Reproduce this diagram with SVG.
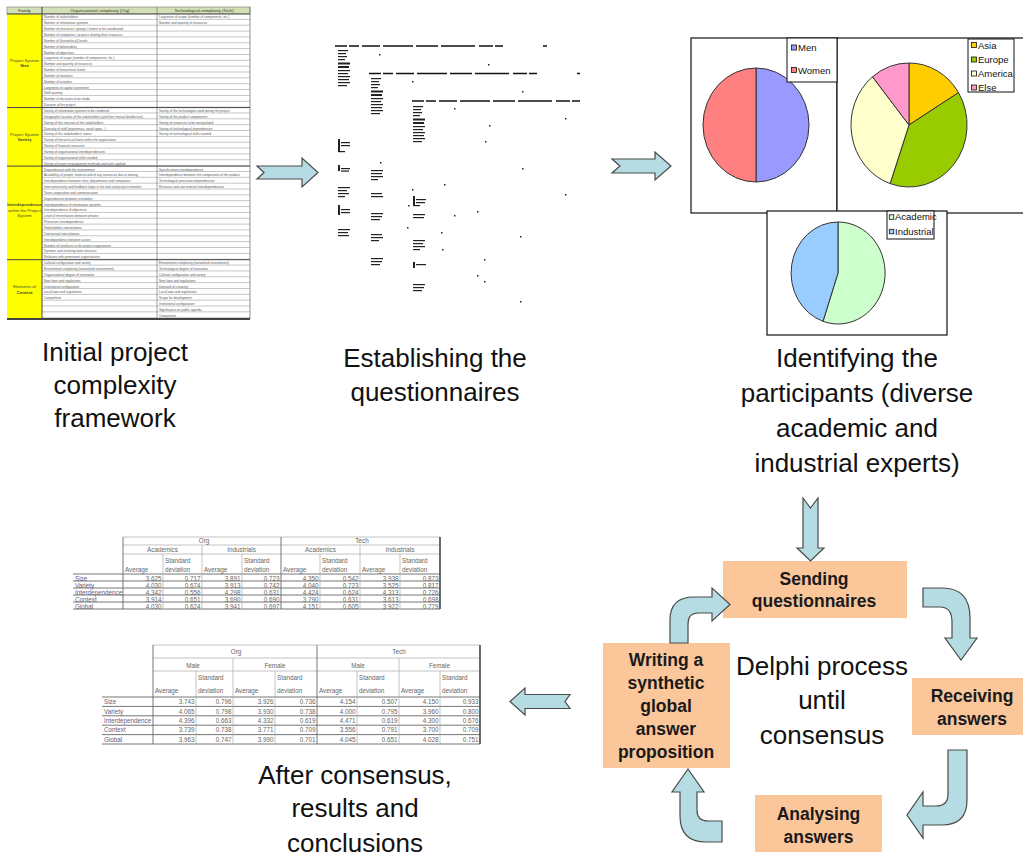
<svg xmlns="http://www.w3.org/2000/svg" width="1023" height="859" viewBox="0 0 1023 859">
<style>
.cap{font-family:"Liberation Sans",Arial,sans-serif;font-size:26px;fill:#111;text-anchor:middle}
.box{fill:#fbc79a}
.bl{font-family:"Liberation Sans",Arial,sans-serif;font-size:17.5px;font-weight:bold;fill:#1a1a1a;text-anchor:middle}
.arr{fill:#b5dce2;stroke:#4a4a4a;stroke-width:1.2;stroke-linejoin:miter}
.ft{font-family:"Liberation Sans",Arial,sans-serif;font-size:3.2px;fill:#555}
.fh{font-family:"Liberation Sans",Arial,sans-serif;font-size:4.2px;fill:#333;text-anchor:middle}
.fam{font-family:"Liberation Sans",Arial,sans-serif;font-size:4.3px;fill:#444;text-anchor:middle}
.sec{stroke:#444;stroke-width:1}
.pie{stroke:#333;stroke-width:1}
.frm{fill:#fff;stroke:#111;stroke-width:1.2}
.lg{font-family:"Liberation Sans",Arial,sans-serif;font-size:9.5px;fill:#111}
.sq{stroke:#111;stroke-width:0.8}
.tt{font-family:"Liberation Sans",Arial,sans-serif;font-size:6.3px;fill:#666}
.tn{font-family:"Liberation Sans",Arial,sans-serif;font-size:6.3px;fill:#666;text-anchor:end}
.tc{font-family:"Liberation Sans",Arial,sans-serif;font-size:6.3px;fill:#666;text-anchor:middle}
.tlab{font-family:"Liberation Sans",Arial,sans-serif;font-size:6.3px;fill:#6a5a7a}
.gl{stroke:#aaa;stroke-width:0.7}
.gd{stroke:#666;stroke-width:0.9}
.gk{stroke:#444;stroke-width:1.6}
.qh{stroke:#111;stroke-width:1.6}
.qm{fill:#222}
</style>
<defs>
<pattern id="rows" x="0" y="14" width="10" height="5.85" patternUnits="userSpaceOnUse">
<rect width="10" height="5.85" fill="#fff"/>
<line x1="0" y1="5.5" x2="10" y2="5.5" stroke="#8c8c8c" stroke-width="0.6"/>
</pattern>
</defs>
<rect width="1023" height="859" fill="#fff"/>

<!-- Node: framework table -->
<g id="framework">
<rect x="7" y="7" width="243" height="7" fill="#d3e0b6" stroke="#777" stroke-width="0.6"/>
<rect x="7" y="14" width="35" height="305" fill="#ffff00"/>
<rect x="42" y="14" width="208" height="305" fill="url(#rows)"/>
<line x1="42" y1="7" x2="42" y2="319" class="sec"/>
<line x1="157" y1="7" x2="157" y2="319" stroke="#777" stroke-width="0.7"/>
<line x1="250" y1="7" x2="250" y2="319" stroke="#777" stroke-width="0.8"/>
<line x1="7" y1="14" x2="250" y2="14" class="sec"/>
<line x1="7" y1="107.6" x2="250" y2="107.6" class="sec"/>
<line x1="7" y1="166.1" x2="250" y2="166.1" class="sec"/>
<line x1="7" y1="259.7" x2="250" y2="259.7" class="sec"/>
<line x1="7" y1="319" x2="250" y2="319" stroke="#444" stroke-width="1.8"/>
<text class="fh" x="24.5" y="12.3">Family</text>
<text class="fh" x="100" y="12.3">Organisational complexity (Org)</text>
<text class="fh" x="204" y="12.3">Technological complexity (Tech)</text>
<text class="fam" x="24.5" y="61.5">Project System</text>
<text class="fam" x="24.5" y="66.5" font-weight="bold">Size</text>
<text class="fam" x="24.5" y="135.5">Project System</text>
<text class="fam" x="24.5" y="141" font-weight="bold">Variety</text>
<text class="fam" x="24.5" y="206" font-weight="bold">Interdependence</text>
<text class="fam" x="24.5" y="211.5">within the Project</text>
<text class="fam" x="24.5" y="217">System</text>
<text class="fam" x="24.5" y="288">Elements of</text>
<text class="fam" x="24.5" y="293.5" font-weight="bold">Context</text>
<text class="ft">
<tspan x="44" y="18.4">Number of stakeholders</tspan>
<tspan x="44" y="24.25">Number of information systems</tspan>
<tspan x="44" y="30.1">Number of structures / groups / teams to be coordinated</tspan>
<tspan x="44" y="35.95">Number of companies / projects sharing their resources</tspan>
<tspan x="44" y="41.8">Number of (hierarchical) levels</tspan>
<tspan x="44" y="47.65">Number of deliverables</tspan>
<tspan x="44" y="53.5">Number of objectives</tspan>
<tspan x="44" y="59.35">Largeness of scope (number of components, etc.)</tspan>
<tspan x="44" y="65.2">Number and quantity of resources</tspan>
<tspan x="44" y="71.05">Number of hierarchical levels</tspan>
<tspan x="44" y="76.9">Number of investors</tspan>
<tspan x="44" y="82.75">Number of activities</tspan>
<tspan x="44" y="88.6">Largeness of capital investment</tspan>
<tspan x="44" y="94.45">Staff quantity</tspan>
<tspan x="44" y="100.3">Number of decisions to be made</tspan>
<tspan x="44" y="106.15">Duration of the project</tspan>
<tspan x="44" y="112">Variety of information systems to be combined</tspan>
<tspan x="44" y="117.85">Geographic location of the stakeholders (and their mutual disaffection)</tspan>
<tspan x="44" y="123.7">Variety of the interests of the stakeholders</tspan>
<tspan x="44" y="129.55">Diversity of staff (experience, social span...)</tspan>
<tspan x="44" y="135.4">Variety of the stakeholders' status</tspan>
<tspan x="44" y="141.25">Variety of hierarchical levels within the organisation</tspan>
<tspan x="44" y="147.1">Variety of financial resources</tspan>
<tspan x="44" y="152.95">Variety of organisational interdependencies</tspan>
<tspan x="44" y="158.8">Variety of organisational skills needed</tspan>
<tspan x="44" y="164.65">Variety of project management methods and tools applied</tspan>
<tspan x="44" y="170.5">Dependencies with the environment</tspan>
<tspan x="44" y="176.35">Availability of people, material and of any resources due to sharing</tspan>
<tspan x="44" y="182.2">Interdependence between sites, departments and companies</tspan>
<tspan x="44" y="188.05">Interconnectivity and feedback loops in the task and project networks</tspan>
<tspan x="44" y="193.9">Team cooperation and communication</tspan>
<tspan x="44" y="199.75">Dependencies between schedules</tspan>
<tspan x="44" y="205.6">Interdependence of information systems</tspan>
<tspan x="44" y="211.45">Interdependence of objectives</tspan>
<tspan x="44" y="217.3">Level of interrelations between phases</tspan>
<tspan x="44" y="223.15">Processes interdependence</tspan>
<tspan x="44" y="229">Stakeholders interrelations</tspan>
<tspan x="44" y="234.85">Contractual interrelations</tspan>
<tspan x="44" y="240.7">Interdependence between actors</tspan>
<tspan x="44" y="246.55">Number of interfaces in the project organization</tspan>
<tspan x="44" y="252.4">Dynamic and evolving team structure</tspan>
<tspan x="44" y="258.25">Relations with permanent organisations</tspan>
<tspan x="44" y="264.1">Cultural configuration and variety</tspan>
<tspan x="44" y="269.95">Environment complexity (networked environment)</tspan>
<tspan x="44" y="275.8">Organisational degree of innovation</tspan>
<tspan x="44" y="281.65">New laws and regulations</tspan>
<tspan x="44" y="287.5">Institutional configuration</tspan>
<tspan x="44" y="293.35">Local laws and regulations</tspan>
<tspan x="44" y="299.2">Competition</tspan>
</text>
<text class="ft">
<tspan x="159" y="18.4">Largeness of scope (number of components, etc.)</tspan>
<tspan x="159" y="24.25">Number and quantity of resources</tspan>
<tspan x="159" y="112">Variety of the technologies used during the project</tspan>
<tspan x="159" y="117.85">Variety of the product components</tspan>
<tspan x="159" y="123.7">Variety of resources to be manipulated</tspan>
<tspan x="159" y="129.55">Variety of technological dependencies</tspan>
<tspan x="159" y="135.4">Variety of technological skills needed</tspan>
<tspan x="159" y="170.5">Specifications interdependence</tspan>
<tspan x="159" y="176.35">Interdependence between the components of the product</tspan>
<tspan x="159" y="182.2">Technological processes dependencies</tspan>
<tspan x="159" y="188.05">Resource and raw material interdependencies</tspan>
<tspan x="159" y="264.1">Environment complexity (networked environment)</tspan>
<tspan x="159" y="269.95">Technological degree of innovation</tspan>
<tspan x="159" y="275.8">Cultural configuration and variety</tspan>
<tspan x="159" y="281.65">New laws and regulations</tspan>
<tspan x="159" y="287.5">Demand of creativity</tspan>
<tspan x="159" y="293.35">Local laws and regulations</tspan>
<tspan x="159" y="299.2">Scope for development</tspan>
<tspan x="159" y="305.05">Institutional configuration</tspan>
<tspan x="159" y="310.9">Significance on public agenda</tspan>
<tspan x="159" y="316.75">Competition</tspan>
</text>
<text class="cap"><tspan x="115" y="361">Initial project</tspan><tspan x="115" y="394">complexity</tspan><tspan x="115" y="427">framework</tspan></text>
</g>

<!-- Node: questionnaires -->
<g id="questionnaires">
<line class="qh" x1="335" y1="46" x2="547" y2="46" stroke-dasharray="12 2 10 3 18 3 30 3 22 3 34 4 14 2 8 40"/>
<line class="qh" x1="369" y1="73.5" x2="580" y2="73.5" stroke-dasharray="12 2 10 3 18 3 30 3 22 3 34 4 14 2 8 40"/>
<line class="qh" x1="412" y1="101" x2="618" y2="101" stroke-dasharray="12 2 10 3 18 3 30 3 22 3 34 4 14 2 8 40"/>
<g class="qm">
<rect x="338" y="50" width="10" height="1.2"/><rect x="338" y="53" width="8" height="1.2"/><rect x="338" y="56" width="9" height="1.2"/><rect x="338" y="59" width="7" height="1.2"/><rect x="338" y="62.5" width="12" height="2"/><rect x="338" y="66" width="11" height="2"/><rect x="338" y="70" width="12" height="1.2"/><rect x="338" y="73" width="10" height="1.2"/><rect x="338" y="76" width="12" height="1.2"/><rect x="338" y="79" width="11" height="1.2"/><rect x="338" y="82" width="12" height="1.2"/><rect x="338" y="85" width="9" height="1.2"/>
<rect x="371" y="78" width="10" height="1.2"/><rect x="371" y="81" width="8" height="1.2"/><rect x="371" y="84" width="9" height="1.2"/><rect x="371" y="87" width="7" height="1.2"/><rect x="371" y="90.5" width="12" height="2"/><rect x="371" y="94" width="11" height="2"/><rect x="371" y="98" width="12" height="1.2"/><rect x="371" y="101" width="10" height="1.2"/><rect x="371" y="104" width="12" height="1.2"/><rect x="371" y="107" width="11" height="1.2"/><rect x="371" y="110" width="12" height="1.2"/><rect x="371" y="113" width="9" height="1.2"/>
<rect x="413" y="106" width="10" height="1.2"/><rect x="413" y="109" width="8" height="1.2"/><rect x="413" y="112" width="9" height="1.2"/><rect x="413" y="115" width="7" height="1.2"/><rect x="413" y="118.5" width="12" height="2"/><rect x="413" y="122" width="11" height="2"/><rect x="413" y="126" width="12" height="1.2"/><rect x="413" y="129" width="10" height="1.2"/><rect x="413" y="132" width="12" height="1.2"/><rect x="413" y="135" width="11" height="1.2"/><rect x="413" y="138" width="12" height="1.2"/><rect x="413" y="141" width="9" height="1.2"/>
<rect x="338" y="139" width="2" height="12"/><rect x="341" y="142" width="9" height="1.2"/><rect x="341" y="145" width="9" height="1.2"/><rect x="338" y="151" width="7" height="1.2"/>
<rect x="338" y="165" width="2" height="6"/><rect x="341" y="168" width="9" height="1.2"/><rect x="341" y="170.5" width="8" height="1.2"/>
<rect x="338" y="187" width="12" height="1.2"/><rect x="338" y="190" width="9" height="1.2"/><rect x="338" y="193" width="11" height="1.2"/><rect x="338" y="196" width="7" height="1.2"/>
<rect x="338" y="205" width="2" height="10"/><rect x="341" y="209" width="9" height="1.2"/><rect x="341" y="212" width="9" height="1.2"/>
<rect x="338" y="229" width="12" height="1.2"/><rect x="338" y="232" width="10" height="1.2"/><rect x="338" y="235" width="11" height="1.2"/>
<rect x="371" y="170" width="12" height="1.2"/><rect x="371" y="173" width="11" height="1.2"/><rect x="371" y="176" width="12" height="1.2"/><rect x="371" y="179" width="7" height="1.2"/>
<rect x="371" y="193" width="11" height="1.2"/><rect x="371" y="196" width="12" height="1.2"/>
<rect x="371" y="213" width="12" height="1.2"/><rect x="371" y="216" width="11" height="1.2"/><rect x="371" y="219" width="9" height="1.2"/>
<rect x="371" y="234" width="11" height="1.2"/><rect x="371" y="237" width="12" height="1.2"/><rect x="371" y="240" width="8" height="1.2"/>
<rect x="371" y="258" width="12" height="1.2"/><rect x="371" y="261" width="11" height="1.2"/><rect x="371" y="264" width="9" height="1.2"/>
<rect x="413" y="196" width="2" height="9"/><rect x="416" y="199" width="10" height="1.2"/><rect x="416" y="202" width="9" height="1.2"/><rect x="413" y="205" width="7" height="1.2"/>
<rect x="413" y="214" width="12" height="1.2"/><rect x="413" y="217" width="11" height="1.2"/>
<rect x="413" y="240" width="12" height="1.2"/><rect x="413" y="243" width="10" height="1.2"/><rect x="413" y="246" width="12" height="1.2"/><rect x="413" y="249" width="7" height="1.2"/>
<rect x="413" y="262" width="2" height="6"/><rect x="416" y="264" width="10" height="1.2"/>
<rect x="413" y="284" width="12" height="1.2"/><rect x="413" y="287" width="11" height="1.2"/><rect x="413" y="290" width="9" height="1.2"/>
<rect x="379" y="54" width="1.5" height="1.5"/><rect x="488" y="64" width="1.5" height="1.5"/><rect x="412" y="81" width="1.5" height="1.5"/><rect x="522" y="91" width="1.5" height="1.5"/><rect x="454" y="108" width="1.5" height="1.5"/><rect x="489" y="125" width="1.5" height="1.5"/><rect x="565" y="118" width="1.5" height="1.5"/><rect x="485" y="141" width="1.5" height="1.5"/><rect x="380" y="162" width="1.5" height="1.5"/><rect x="522" y="168" width="1.5" height="1.5"/><rect x="444" y="184" width="1.5" height="1.5"/><rect x="412" y="189" width="1.5" height="1.5"/><rect x="565" y="194" width="1.5" height="1.5"/><rect x="408" y="205" width="1.5" height="1.5"/><rect x="477" y="211" width="1.5" height="1.5"/><rect x="454" y="215" width="1.5" height="1.5"/><rect x="407" y="227" width="1.5" height="1.5"/><rect x="441" y="232" width="1.5" height="1.5"/><rect x="520" y="236" width="1.5" height="1.5"/><rect x="442" y="249" width="1.5" height="1.5"/><rect x="484" y="259" width="1.5" height="1.5"/><rect x="477" y="275" width="1.5" height="1.5"/><rect x="484" y="281" width="1.5" height="1.5"/><rect x="520" y="301" width="1.5" height="1.5"/>
</g>
<text class="cap"><tspan x="435" y="367">Establishing the</tspan><tspan x="435" y="401">questionnaires</tspan></text>
</g>

<!-- Node: participants (pie charts) -->
<g id="participants">
<rect class="frm" x="691" y="38" width="146" height="175"/>
<rect class="frm" x="837" y="38" width="190" height="175"/>
<path class="pie" fill="#9999ff" d="M756,68 A53,57 0 0,1 756,182 Z"/>
<path class="pie" fill="#ff8080" d="M756,182 A53,57 0 0,1 756,68 Z"/>
<rect x="787" y="38" width="50" height="44" fill="#fff" stroke="#111" stroke-width="1"/>
<rect class="sq" x="791.5" y="45" width="5" height="5" fill="#9999ff"/>
<text class="lg" x="798" y="51" font-size="10">Men</text>
<rect class="sq" x="791.5" y="67.5" width="5" height="5" fill="#ff8080"/>
<text class="lg" x="798" y="73.5" font-size="10">Women</text>
<path class="pie" fill="#ffcc00" d="M909,125 L909,63 A58,62 0 0,1 958.5,92.6 Z"/>
<path class="pie" fill="#99cc00" d="M909,125 L958.5,92.6 A58,62 0 0,1 890.1,183.6 Z"/>
<path class="pie" fill="#ffffcc" d="M909,125 L890.1,183.6 A58,62 0 0,1 872.5,76.8 Z"/>
<path class="pie" fill="#ff99cc" d="M909,125 L872.5,76.8 A58,62 0 0,1 909,63 Z"/>
<rect x="968" y="39" width="46" height="53" fill="#fff" stroke="#111" stroke-width="1"/>
<rect class="sq" x="971.5" y="42.5" width="5" height="5" fill="#ffcc00"/>
<text class="lg" x="978" y="48.5">Asia</text>
<rect class="sq" x="971.5" y="57" width="5" height="5" fill="#99cc00"/>
<text class="lg" x="978" y="63">Europe</text>
<rect class="sq" x="971.5" y="71" width="5" height="5" fill="#ffffcc"/>
<text class="lg" x="978" y="77">America</text>
<rect class="sq" x="971.5" y="85" width="5" height="5" fill="#ff99cc"/>
<text class="lg" x="978" y="91">Else</text>
<rect class="frm" x="767" y="211" width="180" height="124"/>
<path class="pie" fill="#ccffcc" d="M838,273 L838,222 A47,51 0 1,1 823,321.3 Z"/>
<path class="pie" fill="#99ccff" d="M838,273 L823,321.3 A47,51 0 0,1 838,222 Z"/>
<rect x="887" y="211" width="47" height="28" fill="#fff" stroke="#111" stroke-width="1"/>
<rect class="sq" x="889.3" y="214.8" width="4.5" height="4.5" fill="#ccffcc"/>
<text class="lg" x="895" y="220.3" font-size="8.8">Academic</text>
<rect class="sq" x="889.3" y="229.3" width="4.5" height="4.5" fill="#99ccff"/>
<text class="lg" x="895" y="234.8" font-size="8.8">Industrial</text>
<text class="cap"><tspan x="857" y="367">Identifying the</tspan><tspan x="857" y="402">participants (diverse</tspan><tspan x="857" y="437">academic and</tspan><tspan x="857" y="472">industrial experts)</tspan></text>
</g>

<!-- Node: Delphi process -->
<g id="delphi">
<text class="cap" font-size="26.5"><tspan x="822" y="675">Delphi process</tspan><tspan x="822" y="709">until</tspan><tspan x="822" y="744">consensus</tspan></text>
</g>
<g id="sending">
<rect class="box" x="723" y="561" width="184" height="57"/>
<text class="bl"><tspan x="814" y="585">Sending</tspan><tspan x="814" y="607">questionnaires</tspan></text>
</g>
<g id="receiving">
<rect class="box" x="912" y="678" width="111" height="57"/>
<text class="bl"><tspan x="972" y="702">Receiving</tspan><tspan x="972" y="725">answers</tspan></text>
</g>
<g id="analysing">
<rect class="box" x="755" y="795" width="127" height="57"/>
<text class="bl"><tspan x="818.5" y="820">Analysing</tspan><tspan x="818.5" y="843">answers</tspan></text>
</g>
<g id="writing">
<rect class="box" x="603" y="643" width="127" height="125"/>
<text class="bl"><tspan x="666" y="666">Writing a</tspan><tspan x="666" y="689">synthetic</tspan><tspan x="666" y="712">global</tspan><tspan x="666" y="735">answer</tspan><tspan x="666" y="758">proposition</tspan></text>
</g>

<!-- Node: results tables -->
<g id="results">
<g id="table-academic">
<line class="gl" x1="123" y1="537" x2="440" y2="537"/>
<line class="gl" x1="123" y1="545" x2="440" y2="545"/>
<line class="gl" x1="123" y1="554" x2="440" y2="554"/>
<line class="gd" x1="73" y1="574" x2="440" y2="574"/>
<line class="gd" x1="73" y1="581" x2="440" y2="581"/>
<line class="gd" x1="73" y1="588" x2="440" y2="588"/>
<line class="gd" x1="73" y1="595" x2="440" y2="595"/>
<line class="gd" x1="73" y1="602" x2="440" y2="602"/>
<line class="gd" x1="73" y1="609" x2="440" y2="609"/>
<line class="gd" x1="123" y1="537" x2="123" y2="609"/>
<line class="gd" x1="281" y1="537" x2="281" y2="609"/>
<line class="gl" x1="202" y1="545" x2="202" y2="609"/>
<line class="gl" x1="360" y1="545" x2="360" y2="609"/>
<line class="gl" x1="163" y1="554" x2="163" y2="609"/>
<line class="gl" x1="242" y1="554" x2="242" y2="609"/>
<line class="gl" x1="320" y1="554" x2="320" y2="609"/>
<line class="gl" x1="400" y1="554" x2="400" y2="609"/>
<line class="gk" x1="440" y1="537" x2="440" y2="609"/>
<text class="tc" x="204" y="543">Org</text>
<text class="tc" x="362" y="543">Tech</text>
<text class="tc"><tspan x="162.5" y="552">Academics</tspan><tspan x="241.5" y="552">Industrials</tspan><tspan x="320.5" y="552">Academics</tspan><tspan x="400" y="552">Industrials</tspan></text>
<text class="tt"><tspan x="165" y="563">Standard</tspan><tspan x="244" y="563">Standard</tspan><tspan x="322" y="563">Standard</tspan><tspan x="402" y="563">Standard</tspan>
<tspan x="165" y="572">deviation</tspan><tspan x="244" y="572">deviation</tspan><tspan x="322" y="572">deviation</tspan><tspan x="402" y="572">deviation</tspan>
<tspan x="125" y="572">Average</tspan><tspan x="204" y="572">Average</tspan><tspan x="283" y="572">Average</tspan><tspan x="362" y="572">Average</tspan></text>
<text class="tlab"><tspan x="75" y="580.5">Size</tspan><tspan x="75" y="587.5">Variety</tspan><tspan x="75" y="594.5">Interdependence</tspan><tspan x="75" y="601.5">Context</tspan><tspan x="75" y="608.5">Global</tspan></text>
<text class="tn"><tspan x="161.5" y="580.5">3.625</tspan><tspan x="200.5" y="580.5">0.717</tspan><tspan x="240.5" y="580.5">3.891</tspan><tspan x="279.5" y="580.5">0.723</tspan><tspan x="318.5" y="580.5">4.350</tspan><tspan x="358.5" y="580.5">0.542</tspan><tspan x="398.5" y="580.5">3.938</tspan><tspan x="438.5" y="580.5">0.873</tspan></text>
<text class="tn"><tspan x="161.5" y="587.5">4.030</tspan><tspan x="200.5" y="587.5">0.674</tspan><tspan x="240.5" y="587.5">3.913</tspan><tspan x="279.5" y="587.5">0.742</tspan><tspan x="318.5" y="587.5">4.040</tspan><tspan x="358.5" y="587.5">0.723</tspan><tspan x="398.5" y="587.5">3.525</tspan><tspan x="438.5" y="587.5">0.817</tspan></text>
<text class="tn"><tspan x="161.5" y="594.5">4.342</tspan><tspan x="200.5" y="594.5">0.556</tspan><tspan x="240.5" y="594.5">4.298</tspan><tspan x="279.5" y="594.5">0.631</tspan><tspan x="318.5" y="594.5">4.424</tspan><tspan x="358.5" y="594.5">0.624</tspan><tspan x="398.5" y="594.5">4.313</tspan><tspan x="438.5" y="594.5">0.726</tspan></text>
<text class="tn"><tspan x="161.5" y="601.5">3.914</tspan><tspan x="200.5" y="601.5">0.651</tspan><tspan x="240.5" y="601.5">3.690</tspan><tspan x="279.5" y="601.5">0.690</tspan><tspan x="318.5" y="601.5">3.790</tspan><tspan x="358.5" y="601.5">0.631</tspan><tspan x="398.5" y="601.5">3.613</tspan><tspan x="438.5" y="601.5">0.698</tspan></text>
<text class="tn"><tspan x="161.5" y="608.5">4.030</tspan><tspan x="200.5" y="608.5">0.624</tspan><tspan x="240.5" y="608.5">3.941</tspan><tspan x="279.5" y="608.5">0.697</tspan><tspan x="318.5" y="608.5">4.151</tspan><tspan x="358.5" y="608.5">0.605</tspan><tspan x="398.5" y="608.5">3.922</tspan><tspan x="438.5" y="608.5">0.779</tspan></text>
</g>
<g id="table-gender">
<line class="gl" x1="153" y1="645" x2="480" y2="645"/>
<line class="gl" x1="153" y1="658" x2="480" y2="658"/>
<line class="gl" x1="153" y1="671" x2="480" y2="671"/>
<line class="gd" x1="102" y1="697" x2="480" y2="697"/>
<line class="gd" x1="102" y1="706.4" x2="480" y2="706.4"/>
<line class="gd" x1="102" y1="715.8" x2="480" y2="715.8"/>
<line class="gd" x1="102" y1="725.2" x2="480" y2="725.2"/>
<line class="gd" x1="102" y1="734.6" x2="480" y2="734.6"/>
<line class="gd" x1="102" y1="744" x2="480" y2="744"/>
<line class="gd" x1="153" y1="645" x2="153" y2="744"/>
<line class="gd" x1="317" y1="645" x2="317" y2="744"/>
<line class="gl" x1="233" y1="658" x2="233" y2="744"/>
<line class="gl" x1="399" y1="658" x2="399" y2="744"/>
<line class="gl" x1="196" y1="671" x2="196" y2="744"/>
<line class="gl" x1="275" y1="671" x2="275" y2="744"/>
<line class="gl" x1="357" y1="671" x2="357" y2="744"/>
<line class="gl" x1="440" y1="671" x2="440" y2="744"/>
<line class="gk" x1="480" y1="645" x2="480" y2="744"/>
<text class="tc" font-size="7"><tspan x="236" y="654">Org</tspan><tspan x="399" y="654">Tech</tspan></text>
<text class="tc" font-size="7"><tspan x="193" y="667.5">Male</tspan><tspan x="275" y="667.5">Female</tspan><tspan x="358" y="667.5">Male</tspan><tspan x="439.5" y="667.5">Female</tspan></text>
<text class="tt" font-size="7"><tspan x="198" y="679.5">Standard</tspan><tspan x="277" y="679.5">Standard</tspan><tspan x="359" y="679.5">Standard</tspan><tspan x="442" y="679.5">Standard</tspan>
<tspan x="198" y="692.5">deviation</tspan><tspan x="277" y="692.5">deviation</tspan><tspan x="359" y="692.5">deviation</tspan><tspan x="442" y="692.5">deviation</tspan>
<tspan x="155" y="692.5">Average</tspan><tspan x="235" y="692.5">Average</tspan><tspan x="319" y="692.5">Average</tspan><tspan x="401" y="692.5">Average</tspan></text>
<text class="tlab" font-size="7"><tspan x="104" y="704.2">Size</tspan><tspan x="104" y="713.6">Variety</tspan><tspan x="104" y="723">Interdependence</tspan><tspan x="104" y="732.4">Context</tspan><tspan x="104" y="741.8">Global</tspan></text>
<text class="tn" font-size="7"><tspan x="194.5" y="704.2">3.743</tspan><tspan x="231.5" y="704.2">0.796</tspan><tspan x="273.5" y="704.2">3.926</tspan><tspan x="315.5" y="704.2">0.736</tspan><tspan x="355.5" y="704.2">4.154</tspan><tspan x="397.5" y="704.2">0.507</tspan><tspan x="438.5" y="704.2">4.150</tspan><tspan x="478.5" y="704.2">0.933</tspan></text>
<text class="tn" font-size="7"><tspan x="194.5" y="713.6">4.065</tspan><tspan x="231.5" y="713.6">0.798</tspan><tspan x="273.5" y="713.6">3.930</tspan><tspan x="315.5" y="713.6">0.738</tspan><tspan x="355.5" y="713.6">4.000</tspan><tspan x="397.5" y="713.6">0.795</tspan><tspan x="438.5" y="713.6">3.960</tspan><tspan x="478.5" y="713.6">0.800</tspan></text>
<text class="tn" font-size="7"><tspan x="194.5" y="723">4.396</tspan><tspan x="231.5" y="723">0.663</tspan><tspan x="273.5" y="723">4.332</tspan><tspan x="315.5" y="723">0.619</tspan><tspan x="355.5" y="723">4.471</tspan><tspan x="397.5" y="723">0.619</tspan><tspan x="438.5" y="723">4.300</tspan><tspan x="478.5" y="723">0.676</tspan></text>
<text class="tn" font-size="7"><tspan x="194.5" y="732.4">3.739</tspan><tspan x="231.5" y="732.4">0.738</tspan><tspan x="273.5" y="732.4">3.771</tspan><tspan x="315.5" y="732.4">0.709</tspan><tspan x="355.5" y="732.4">3.556</tspan><tspan x="397.5" y="732.4">0.791</tspan><tspan x="438.5" y="732.4">3.700</tspan><tspan x="478.5" y="732.4">0.709</tspan></text>
<text class="tn" font-size="7"><tspan x="194.5" y="741.8">3.963</tspan><tspan x="231.5" y="741.8">0.747</tspan><tspan x="273.5" y="741.8">3.990</tspan><tspan x="315.5" y="741.8">0.701</tspan><tspan x="355.5" y="741.8">4.045</tspan><tspan x="397.5" y="741.8">0.651</tspan><tspan x="438.5" y="741.8">4.028</tspan><tspan x="478.5" y="741.8">0.751</tspan></text>
</g>
<text class="cap"><tspan x="355" y="784">After consensus,</tspan><tspan x="355" y="817">results and</tspan><tspan x="355" y="852">conclusions</tspan></text>
</g>

<!-- Connectors -->
<g id="connectors">
<path class="arr" d="M257,166 L302,166 L302,158 L318,172.5 L302,187 L302,179 L257,179 L264,172.5 Z"/>
<path class="arr" d="M612,159 L655,159 L655,152 L671,166 L655,180 L655,173 L612,173 L620,166 Z"/>
<path class="arr" d="M803,498 L810.5,508 L818,498 L818,548 L824,548 L810.5,561 L797,548 L803,548 Z"/>
<path class="arr" d="M570,694.5 L525,694.5 L525,688 L510,701.5 L525,715 L525,708.5 L570,708.5 L565,701.5 Z"/>
<path class="arr" d="M923,588 L942,588 Q970,588 970,618 L970,638 L977,638 L961,660 L945,638 L952,638 L952,622 Q952,607 940,607 L923,607 Z"/>
<path class="arr" d="M948,750 L967,750 L967,800 Q967,825 942,825 L923,825 L923,838 L907,815 L923,792 L923,806 L936,806 Q948,806 948,794 Z"/>
<path class="arr" d="M722,821 L722,842 L706,842 Q680,842 680,816 L680,792 L672,792 L688,769 L704,792 L697,792 L697,810 Q697,821 708,821 Z"/>
<path class="arr" d="M670,643 L670,620 Q670,597 694,597 L712,597 L712,588 L730,604.5 L712,621 L712,613 L698,613 Q688,613 688,624 L688,643 Z"/>
</g>
</svg>
